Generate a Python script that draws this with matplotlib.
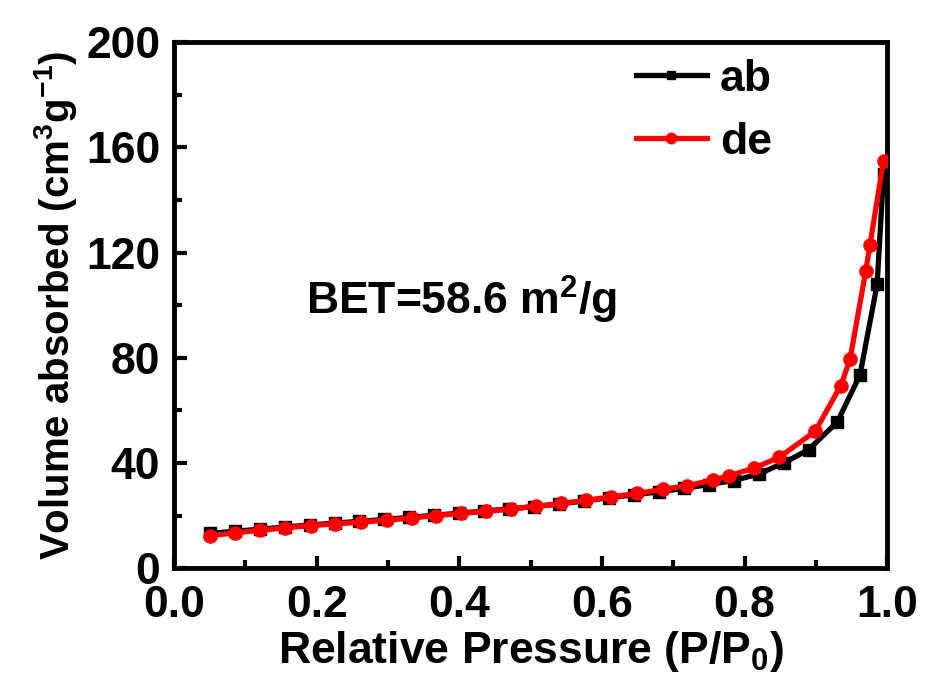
import matplotlib
matplotlib.use("Agg")
import matplotlib.pyplot as plt
from matplotlib.ticker import MultipleLocator, FormatStrFormatter

plt.rcParams['font.family'] = ['Liberation Sans', 'DejaVu Sans']
plt.rcParams['font.weight'] = 'bold'
plt.rcParams['mathtext.fontset'] = 'custom'
plt.rcParams['mathtext.rm'] = 'Liberation Sans:bold'
plt.rcParams['mathtext.it'] = 'Liberation Sans:bold'
plt.rcParams['mathtext.bf'] = 'Liberation Sans:bold'
plt.rcParams['mathtext.default'] = 'rm'

# adsorption branch (ab)
ab_p = [0.05, 0.085, 0.12, 0.155, 0.19, 0.225, 0.26, 0.295, 0.33, 0.365,
        0.40, 0.435, 0.47, 0.505, 0.54, 0.575, 0.61, 0.645, 0.68, 0.715,
        0.75, 0.785, 0.82, 0.855, 0.89, 0.93, 0.962, 0.986, 0.995]
ab_v = [13.2, 14.0, 14.8, 15.6, 16.4, 17.1, 17.8, 18.5, 19.3, 20.1,
        20.9, 21.7, 22.5, 23.4, 24.4, 25.5, 26.8, 27.9, 29.0, 30.3,
        31.8, 33.3, 35.8, 40.0, 45.1, 55.5, 73.5, 108.0, 150.0]

# desorption branch (de)
de_p = [0.995, 0.976, 0.970, 0.948, 0.935, 0.899, 0.849, 0.813, 0.778, 0.756,
        0.720, 0.685, 0.649, 0.613, 0.578, 0.543, 0.508, 0.473, 0.438, 0.403,
        0.368, 0.333, 0.298, 0.262, 0.226, 0.192, 0.156, 0.121, 0.086, 0.051]
de_v = [155.0, 123.0, 113.0, 79.4, 69.4, 52.0, 42.2, 38.0, 35.1, 33.5,
        31.4, 29.9, 28.4, 27.1, 25.8, 24.6, 23.5, 22.5, 21.6, 20.8,
        20.0, 19.1, 18.2, 17.5, 16.8, 16.2, 15.3, 14.4, 13.4, 12.4]

fig = plt.figure(figsize=(9.26, 6.82), dpi=100)
ax = fig.add_axes([0.188, 0.167, 0.770, 0.771])

ax.plot(ab_p, ab_v, color='black', lw=3.8, marker='s', ms=8, label='ab', zorder=3)
ax.plot(de_p, de_v, color='#ff0000', lw=3.8, marker='o', ms=9.5, label='de', zorder=4)

ax.set_xlim(0, 1.0)
ax.set_ylim(0, 200)
ax.xaxis.set_major_locator(MultipleLocator(0.2))
ax.xaxis.set_minor_locator(MultipleLocator(0.1))
ax.yaxis.set_major_locator(MultipleLocator(40))
ax.yaxis.set_minor_locator(MultipleLocator(20))
ax.xaxis.set_major_formatter(FormatStrFormatter('%.1f'))

for s in ax.spines.values():
    s.set_linewidth(3.5)
ax.tick_params(which='both', direction='in', top=False, right=False,
               labelsize=32, width=3)
ax.tick_params(which='major', length=9)
ax.tick_params(which='minor', length=6)
ax.tick_params(axis='x', pad=12)
ax.tick_params(axis='y', pad=10)
for lab in ax.get_xticklabels() + ax.get_yticklabels():
    lab.set_fontweight('bold')

ax.set_xlabel('Relative Pressure (P/P$_{0}$)', fontsize=32, fontweight='bold', labelpad=2)
ax.set_ylabel('Volume absorbed (cm$^{3}$g$^{-1}$)', fontsize=29, fontweight='bold', labelpad=5)

ax.text(0.185, 102, 'BET=58.6 m$^{2}$/g', fontsize=32, fontweight='bold',
        va='center', ha='left')

leg = ax.legend(loc='upper right', bbox_to_anchor=(0.895, 1.045), frameon=False,
                prop={'size': 32, 'weight': 'bold'}, handlelength=1.6,
                handletextpad=0.3, labelspacing=0.5, markerscale=0.8)

fig.savefig('out.png', dpi=100)
